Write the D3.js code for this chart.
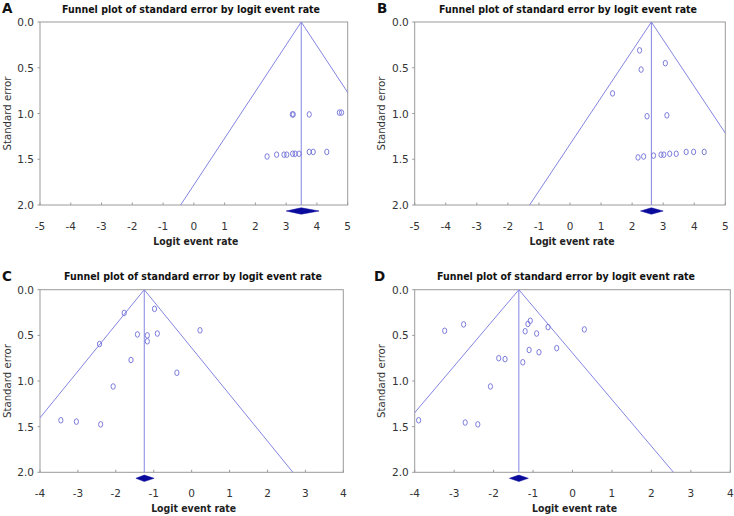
<!DOCTYPE html>
<html><head><meta charset="utf-8">
<script src="https://cdn.jsdelivr.net/npm/d3@7"></script>
<style>body{margin:0;background:#fff}svg{display:block}</style>
</head><body>
<script>
// ---- data ----
const xTicksAB = [-5,-4,-3,-2,-1,0,1,2,3,4,5];
const xTicksCD = [-4,-3,-2,-1,0,1,2,3,4];
const yTicks = [0,0.5,1,1.5,2];
const yTickLabels = ["0.0","0.5","1.0","1.5","2.0"];
const panelLetters = ["A","B","C","D"];
const titleText = "Funnel plot of standard error by logit event rate";
const xLabel = "Logit event rate";
const yLabel = "Standard error";

const meanA = 3.49, ciA = [3.0, 4.07];
const xA = [3.20,3.23,3.75,4.73,4.80,2.38,2.69,2.93,3.02,3.21,3.29,3.42,3.75,3.88,4.32];
const seA = [1.01,1.01,1.01,0.99,0.99,1.47,1.45,1.45,1.45,1.44,1.44,1.44,1.42,1.42,1.42];

const meanB = 2.62, ciB = [2.27, 3.0];
const xB = [2.24,2.29,3.07,1.37,2.48,3.12,2.19,2.37,2.69,2.93,3.02,3.21,3.42,3.74,3.98,4.32];
const seB = [0.31,0.52,0.45,0.78,1.03,1.02,1.48,1.47,1.46,1.45,1.45,1.44,1.44,1.42,1.42,1.42];

const meanC = -1.25, ciC = [-1.47, -0.99];
const xC = [-1.78,-0.98,-2.43,-1.43,-1.17,-1.17,-0.905,0.22,-1.60,-0.39,-2.07,-3.45,-3.04,-2.40];
const seC = [0.255,0.21,0.595,0.49,0.50,0.565,0.48,0.445,0.77,0.91,1.06,1.43,1.445,1.475];

const meanD = -1.36, ciD = [-1.60, -1.12];
const xD = [-3.24,-2.76,-1.20,-1.13,-1.07,-0.91,-0.62,0.30,-1.10,-0.85,-0.40,-1.87,-1.71,-1.26,-2.08,-3.90,-2.72,-2.40];
const seD = [0.45,0.38,0.455,0.375,0.34,0.48,0.41,0.435,0.66,0.685,0.64,0.75,0.76,0.795,1.06,1.43,1.455,1.475];

// ---- drawing ----
const W = 734, H = 516;
const svg = d3.select("body").append("svg").attr("width", W).attr("height", H);
const defs = svg.append("defs");

const FONT = "Tahoma, 'DejaVu Sans', sans-serif";
const lineCol = "#8484e2", ptCol = "#6e6ed8", axisCol = "#9a9a9a", diaCol = "#0a0a9c";

const panels = [
  {letter: panelLetters[0], mean: meanA, ci: ciA, xs: xA, ses: seA, xd: [-5,5], ticks: xTicksAB,
   box: {x0: 40, x1: 347.7, y0: 22, y1: 205}, ox: 0, oy: 0, tcx: 191, ylx: 7, letX: 2},
  {letter: panelLetters[1], mean: meanB, ci: ciB, xs: xB, ses: seB, xd: [-5,5], ticks: xTicksAB,
   box: {x0: 414.7, x1: 725.3, y0: 22, y1: 205}, ox: 367, oy: 0, tcx: 568, ylx: 381, letX: 377},
  {letter: panelLetters[2], mean: meanC, ci: ciC, xs: xC, ses: seC, xd: [-4,4], ticks: xTicksCD,
   box: {x0: 40, x1: 343.3, y0: 289.7, y1: 472.3}, ox: 0, oy: 267.5, tcx: 193, ylx: 7, letX: 2},
  {letter: panelLetters[3], mean: meanD, ci: ciD, xs: xD, ses: seD, xd: [-4,4], ticks: xTicksCD,
   box: {x0: 414.7, x1: 730.3, y0: 289.7, y1: 472.3}, ox: 367, oy: 267.5, tcx: 566, ylx: 381, letX: 374}
];

panels.forEach((p, i) => {
  const b = p.box;
  const x = d3.scaleLinear().domain(p.xd).range([b.x0, b.x1]);
  const y = d3.scaleLinear().domain([0, 2]).range([b.y0, b.y1]);
  const g = svg.append("g");

  // frame
  g.append("rect").attr("x", b.x0).attr("y", b.y0).attr("width", b.x1 - b.x0).attr("height", b.y1 - b.y0)
    .attr("fill", "none").attr("stroke", axisCol).attr("stroke-width", 1);

  // x axis ticks (inward) & labels
  g.selectAll(".xt").data(p.ticks).join("line")
    .attr("x1", d => x(d)).attr("x2", d => x(d)).attr("y1", b.y1).attr("y2", b.y1 - 2.5)
    .attr("stroke", axisCol);
  g.selectAll(".xl").data(p.ticks).join("text")
    .attr("x", d => x(d)).attr("y", b.y1 + 24.5)
    .attr("text-anchor", "middle").attr("font-family", FONT).attr("font-size", 10.5)
    .attr("fill", "#333").text(d => d);

  // y axis ticks (outward) & labels
  g.selectAll(".yt").data(yTicks).join("line")
    .attr("x1", b.x0 - 2.5).attr("x2", b.x0).attr("y1", d => y(d)).attr("y2", d => y(d))
    .attr("stroke", axisCol);
  g.selectAll(".yl").data(yTicks).join("text")
    .attr("x", b.x0 - 6).attr("y", d => y(d) + 4)
    .attr("text-anchor", "end").attr("font-family", FONT).attr("font-size", 10.5)
    .attr("fill", "#333").text((d, k) => yTickLabels[k]);

  // clip
  const cid = "clip" + i;
  defs.append("clipPath").attr("id", cid).append("rect")
    .attr("x", b.x0).attr("y", b.y0).attr("width", b.x1 - b.x0).attr("height", b.y1 - b.y0);
  const pg = g.append("g").attr("clip-path", `url(#${cid})`);

  // funnel lines
  const half = 1.96 * 2;
  pg.append("line").attr("x1", x(p.mean)).attr("y1", y(0)).attr("x2", x(p.mean - half)).attr("y2", y(2))
    .attr("stroke", lineCol).attr("stroke-width", 1);
  pg.append("line").attr("x1", x(p.mean)).attr("y1", y(0)).attr("x2", x(p.mean + half)).attr("y2", y(2))
    .attr("stroke", lineCol).attr("stroke-width", 1);
  pg.append("line").attr("x1", x(p.mean)).attr("y1", y(0)).attr("x2", x(p.mean)).attr("y2", y(2))
    .attr("stroke", lineCol).attr("stroke-width", 1);

  // points
  pg.selectAll(".pt").data(p.xs.map((v, k) => [v, p.ses[k]])).join("ellipse")
    .attr("cx", d => x(d[0])).attr("cy", d => y(d[1]))
    .attr("rx", 2.1).attr("ry", 2.8)
    .attr("fill", "none").attr("stroke", ptCol).attr("stroke-width", 0.9);

  // diamond
  const dy = b.y1 + 6;
  const dPts = [[x(p.ci[0]), dy], [x(p.mean), dy - 3.2], [x(p.ci[1]), dy], [x(p.mean), dy + 3.2]];
  g.append("polygon").attr("points", dPts.map(q => q.join(",")).join(" "))
    .attr("fill", diaCol).attr("stroke", diaCol).attr("stroke-width", 0.5);

  // title
  g.append("text").attr("x", p.tcx).attr("y", b.y0 - 9.5)
    .attr("text-anchor", "middle").attr("font-family", FONT).attr("font-weight", "bold")
    .attr("font-size", 10.5).attr("fill", "#111")
    .attr("textLength", 258).attr("lengthAdjust", "spacingAndGlyphs").text(titleText);

  // letter
  g.append("text").attr("x", p.letX).attr("y", p.oy + 13)
    .attr("font-family", FONT).attr("font-weight", "bold").attr("font-size", 13.5)
    .attr("fill", "#111").text(p.letter);

  // x label
  g.append("text").attr("x", (b.x0 + b.x1) / 2 + 2).attr("y", b.y1 + 40)
    .attr("text-anchor", "middle").attr("font-family", FONT).attr("font-weight", "bold")
    .attr("font-size", 10.5).attr("fill", "#222")
    .attr("textLength", 85).attr("lengthAdjust", "spacingAndGlyphs").text(xLabel);

  // y label
  g.append("text").attr("transform", `translate(${p.ylx + 3.5},${(b.y0 + b.y1) / 2}) rotate(-90)`)
    .attr("text-anchor", "middle").attr("font-family", FONT).attr("font-size", 10.5)
    .attr("fill", "#333").attr("textLength", 74).attr("lengthAdjust", "spacingAndGlyphs").text(yLabel);
});
</script>
</body></html>
